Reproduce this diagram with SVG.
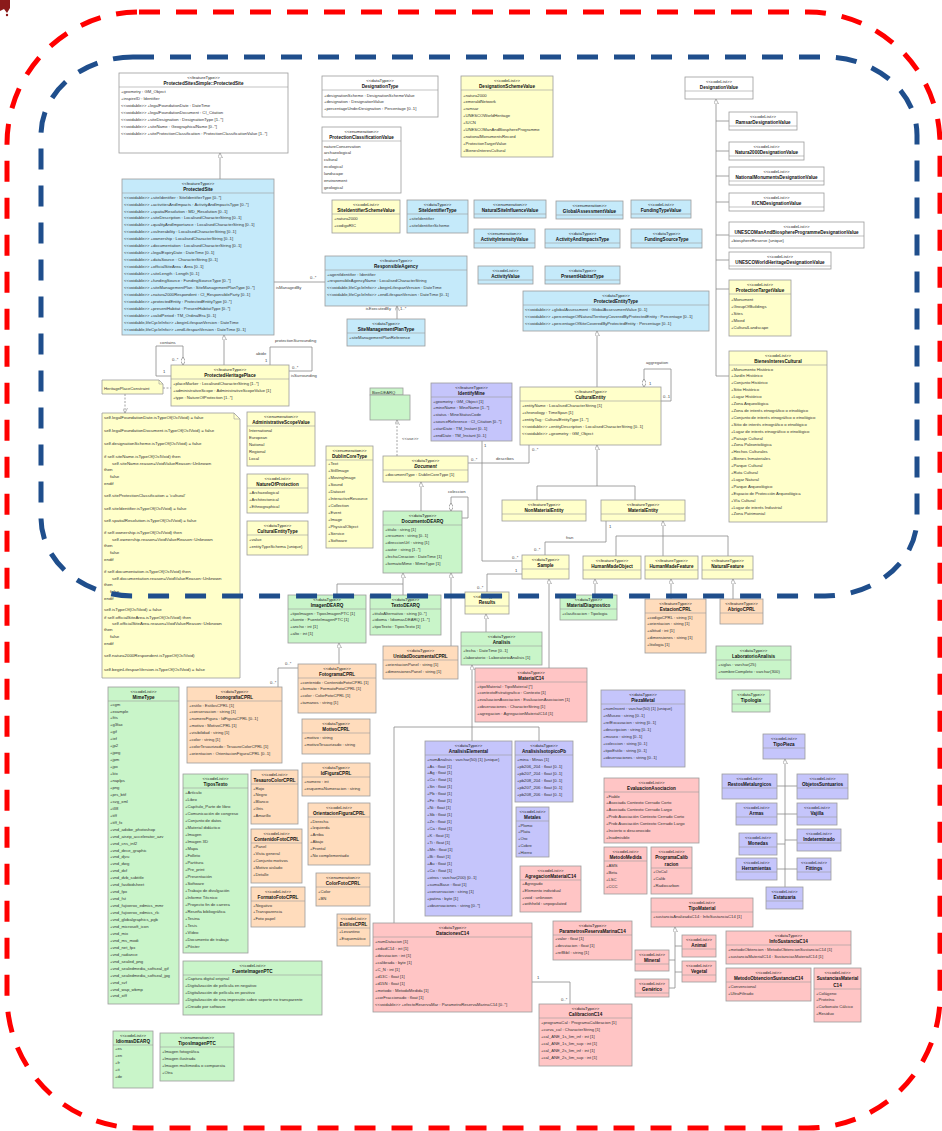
<svg xmlns="http://www.w3.org/2000/svg" width="942" height="1131" viewBox="0 0 942 1131">
<style>
rect.bx{stroke:#9c9c9c;stroke-width:.8}
.w{fill:#fff}.bl{fill:#c5eafa}.y{fill:#ffffca}.g{fill:#c9f5c9}.o{fill:#ffdcbc}.p{fill:#c5c5fb}.r{fill:#ffc5c5}
.sp{stroke:#9c9c9c;stroke-width:.6;fill:none}
text{font-family:"Liberation Sans",Arial,sans-serif;fill:#333}
.s{font-size:4.3px;text-anchor:middle;fill:#222}
.n{font-size:4.6px;font-weight:bold;text-anchor:middle;fill:#111}
.a{font-size:4.2px}
.nt{font-size:4.4px}
.c path{fill:none;stroke:#8c8c8c;stroke-width:.8}
.l{font-size:4.2px;fill:#444}
</style>
<defs>
<marker id="gen" viewBox="0 0 10 10" refX="10" refY="5" markerWidth="5" markerHeight="5" markerUnits="userSpaceOnUse" orient="auto"><path d="M0,0L10,5L0,10Z" fill="#fff" stroke="#888" stroke-width="1.2"/></marker>
<marker id="arr" viewBox="0 0 10 10" refX="10" refY="5" markerWidth="5" markerHeight="5" markerUnits="userSpaceOnUse" orient="auto"><path d="M0,0L10,5L0,10" fill="none" stroke="#888" stroke-width="1.2"/></marker>
<marker id="dia" viewBox="0 0 10 6" refX="0" refY="3" markerWidth="8" markerHeight="4.8" markerUnits="userSpaceOnUse" orient="auto"><path d="M0,3L5,0L10,3L5,6Z" fill="#fff" stroke="#888" stroke-width=".9"/></marker>
</defs>
<rect width="942" height="1131" fill="#fff"/>
<path d="M0,0H10V8L7,13L4,9L0,11Z" fill="#8b1a1a"/><circle cx="7" cy="15" r="1.2" fill="#8b1a1a"/>

<g class="c" id="connectors">
<path d="M220,179V153" marker-end="url(#gen)"/>
<path d="M224,365V335" marker-end="url(#gen)"/>
<path d="M597,387V331" marker-end="url(#gen)"/>
<path d="M537,500V486H635V500"/><path d="M597,486V445" marker-end="url(#gen)"/>
<path d="M616,556V536H728V556"/><path d="M663,556V521" marker-end="url(#gen)"/>
<path d="M421,511V482" marker-end="url(#gen)"/>
<path d="M337,595V584H403V595"/><path d="M403,584V573" marker-end="url(#gen)"/>
<path d="M451,646V573" marker-end="url(#gen)"/>
<path d="M339,664V643" marker-end="url(#gen)"/>
<path d="M486,632V614" marker-end="url(#gen)"/>
<path d="M549,668V579" marker-end="url(#gen)"/>
<path d="M595,595V579" marker-end="url(#gen)"/>
<path d="M671,599V579" marker-end="url(#gen)"/>
<path d="M733,599V579" marker-end="url(#gen)"/>
<path d="M394,923V727H539V741"/><path d="M472,741V665" marker-end="url(#gen)"/>
<path d="M716,376V99" marker-end="url(#gen)"/>
<path d="M716,121H729M716,151H729M716,176H729M716,202H729M716,235H729M716,260H729M716,289H729M716,376H729"/>
<path d="M785,887V759" marker-end="url(#gen)"/>
<path d="M777,786H797M777,814H797M777,844H785M785,840H797M777,869H797"/>
<path d="M675,988V927" marker-end="url(#gen)"/>
<path d="M675,946H682M669,960H675M675,972H682M669,988H675"/>
<path d="M274,282H325"/>
<path d="M183,365V346H156V376H171" marker-start="url(#dia)"/>
<path d="M270,365V347H312V371H289"/>
<path d="M397,319V306" marker-end="url(#arr)"/>
<path d="M644,387V369H671V401H661" marker-start="url(#dia)"/>
<path d="M397,456V420" stroke-dasharray="2 1.5" marker-end="url(#arr)"/>
<path d="M468,463H529V445"/>
<path d="M482,441V561H522"/>
<path d="M451,511V497H468V518H462" marker-start="url(#dia)"/>
<path d="M606,521V542H545V555"/>
<path d="M522,574H487V592"/>
<path d="M278,687V668H298"/>
<path d="M532,982H570V1004"/>
<path d="M163,388H171" stroke-dasharray="2 1.5"/>
<path d="M125,394V413" stroke-dasharray="2 1.5" marker-end="url(#arr)"/>
<text class="l" x="310" y="279">0..*</text>
<text class="l" x="276" y="289">isManagedBy</text>
<text class="l" x="160" y="344">contains</text>
<text class="l" x="172" y="361">0..*</text>
<text class="l" x="163" y="373">1</text>
<text class="l" x="275" y="342">protectionSurrounding</text>
<text class="l" x="256" y="355">abide</text>
<text class="l" x="265" y="362">1</text>
<text class="l" x="292" y="369">0..*</text>
<text class="l" x="291" y="377">isSurrounding</text>
<text class="l" x="391" y="310" text-anchor="end">isExecutedBy</text>
<text class="l" x="400" y="310">1..*</text>
<text class="l" x="646" y="364">aggregation</text>
<text class="l" x="649" y="385">1</text>
<text class="l" x="663" y="398">0..1</text>
<text class="l" x="402" y="440">&lt;&lt;use&gt;&gt;</text>
<text class="l" x="471" y="461">0..*</text>
<text class="l" x="496" y="460">describes</text>
<text class="l" x="532" y="451">0..*</text>
<text class="l" x="484" y="447">1</text>
<text class="l" x="512" y="559">0..*</text>
<text class="l" x="448" y="493">coleccion</text>
<text class="l" x="609" y="528">1</text>
<text class="l" x="566" y="539">fran</text>
<text class="l" x="534" y="551">0..*</text>
<text class="l" x="515" y="572">1</text>
<text class="l" x="477" y="589">0..*</text>
<text class="l" x="285" y="665">0..*</text>
<text class="l" x="270" y="684">0..*</text>
<text class="l" x="537" y="979">1</text>
<text class="l" x="561" y="1001">0..*</text>
</g>

<g id="ProtectedSitesSimple"><rect class="bx w" x="119" y="73" width="169" height="80"/><path class="sp" d="M119 87H288"/><text class="s" x="203.5" y="79">&lt;&lt;featureType&gt;&gt;</text><text class="n" x="203.5" y="85">ProtectedSitesSimple::ProtectedSite</text><text class="a"><tspan x="121" y="92.5">+geometry : GM_Object</tspan><tspan x="121" y="99.5">+inspireID : Identifier</tspan><tspan x="121" y="106.5">&lt;&lt;voidable&gt;&gt; +legalFoundationDate : DateTime</tspan><tspan x="121" y="113.5">&lt;&lt;voidable&gt;&gt; +legalFoundationDocument : CI_Citation</tspan><tspan x="121" y="120.5">&lt;&lt;voidable&gt;&gt; +siteDesignation : DesignationType [1..*]</tspan><tspan x="121" y="127.5">&lt;&lt;voidable&gt;&gt; +siteName : GeographicalName [0..*]</tspan><tspan x="121" y="134.5">&lt;&lt;voidable&gt;&gt; +siteProtectionClassification : ProtectionClassificationValue [1..*]</tspan></text></g>

<g id="ProtectedSite"><rect class="bx bl" x="122" y="179" width="152" height="156"/><path class="sp" d="M122 193H274"/><text class="s" x="198" y="185">&lt;&lt;featureType&gt;&gt;</text><text class="n" x="198" y="191">ProtectedSite</text><text class="a"><tspan x="124" y="198.5">&lt;&lt;voidable&gt;&gt; +siteIdentifier : SiteIdentifierType [0..*]</tspan><tspan x="124" y="205.5">&lt;&lt;voidable&gt;&gt; +activitiesAndImpacts : ActivityAndImpactsType [0..*]</tspan><tspan x="124" y="212.5">&lt;&lt;voidable&gt;&gt; +spatialResolution : MD_Resolution [0..1]</tspan><tspan x="124" y="219.4">&lt;&lt;voidable&gt;&gt; +siteDescription : LocalisedCharacterString [0..1]</tspan><tspan x="124" y="226.3">&lt;&lt;voidable&gt;&gt; +qualityAndImportance : LocalisedCharacterString [0..1]</tspan><tspan x="124" y="233.3">&lt;&lt;voidable&gt;&gt; +vulnerability : LocalisedCharacterString [0..1]</tspan><tspan x="124" y="240.2">&lt;&lt;voidable&gt;&gt; +ownership : LocalisedCharacterString [0..1]</tspan><tspan x="124" y="247.2">&lt;&lt;voidable&gt;&gt; +documentation : LocalisedCharacterString [0..1]</tspan><tspan x="124" y="254.1">&lt;&lt;voidable&gt;&gt; +legalExpiryDate : DateTime [0..1]</tspan><tspan x="124" y="261.1">&lt;&lt;voidable&gt;&gt; +dataSource : CharacterString [0..1]</tspan><tspan x="124" y="268">&lt;&lt;voidable&gt;&gt; +officialSiteArea : Area [0..1]</tspan><tspan x="124" y="275">&lt;&lt;voidable&gt;&gt; +siteLength : Length [0..1]</tspan><tspan x="124" y="281.9">&lt;&lt;voidable&gt;&gt; +fundingSource : FundingSourceType [0..*]</tspan><tspan x="124" y="288.9">&lt;&lt;voidable&gt;&gt; +siteManagementPlan : SiteManagementPlanType [0..*]</tspan><tspan x="124" y="295.8">&lt;&lt;voidable&gt;&gt; +natura2000Respondent : CI_ResponsibleParty [0..1]</tspan><tspan x="124" y="302.8">&lt;&lt;voidable&gt;&gt; +protectedEntity : ProtectedEntityType [0..*]</tspan><tspan x="124" y="309.7">&lt;&lt;voidable&gt;&gt; +presentHabitat : PresentHabitatType [0..*]</tspan><tspan x="124" y="316.7">&lt;&lt;voidable&gt;&gt; +validPeriod : TM_OrdinalEra [0..1]</tspan><tspan x="124" y="323.6">&lt;&lt;voidable,lifeCycleInfo&gt;&gt; +beginLifespanVersion : DateTime</tspan><tspan x="124" y="330.6">&lt;&lt;voidable,lifeCycleInfo&gt;&gt; +endLifespanVersion : DateTime [0..1]</tspan></text></g>

<g id="DesignationType"><rect class="bx w" x="322" y="76" width="116" height="41"/><path class="sp" d="M322 90H438"/><text class="s" x="380" y="82">&lt;&lt;dataType&gt;&gt;</text><text class="n" x="380" y="88">DesignationType</text><text class="a"><tspan x="324" y="96.5">+designationScheme : DesignationSchemeValue</tspan><tspan x="324" y="103.2">+designation : DesignationValue</tspan><tspan x="324" y="110">+percentageUnderDesignation : Percentage [0..1]</tspan></text></g>

<g id="ProtectionClassificationValue"><rect class="bx w" x="322" y="127" width="79" height="66"/><path class="sp" d="M322 141H401"/><text class="s" x="361.5" y="133">&lt;&lt;enumeration&gt;&gt;</text><text class="n" x="361.5" y="139">ProtectionClassificationValue</text><text class="a"><tspan x="324" y="147.5">natureConservation</tspan><tspan x="324" y="154.4">archaeological</tspan><tspan x="324" y="161.3">cultural</tspan><tspan x="324" y="168.2">ecological</tspan><tspan x="324" y="175.1">landscape</tspan><tspan x="324" y="182">environment</tspan><tspan x="324" y="188.9">geological</tspan></text></g>

<g id="DesignationSchemeValue"><rect class="bx y" x="461" y="76" width="92" height="81"/><path class="sp" d="M461 90H553"/><text class="s" x="507" y="82">&lt;&lt;codeList&gt;&gt;</text><text class="n" x="507" y="88">DesignationSchemeValue</text><text class="a"><tspan x="463" y="96.5">+natura2000</tspan><tspan x="463" y="103.4">+emeraldNetwork</tspan><tspan x="463" y="110.3">+ramsar</tspan><tspan x="463" y="117.2">+UNESCOWorldHeritage</tspan><tspan x="463" y="124.1">+IUCN</tspan><tspan x="463" y="131">+UNESCOManAndBiosphereProgramme</tspan><tspan x="463" y="137.9">+nationalMonumentsRecord</tspan><tspan x="463" y="144.8">+ProtectionTargetValue</tspan><tspan x="463" y="151.7">+BienesInteresCultural</tspan></text></g>

<g id="SiteIdentifierSchemeValue"><rect class="bx y" x="332" y="200" width="68" height="33"/><path class="sp" d="M332 214H400"/><text class="s" x="366" y="206">&lt;&lt;codeList&gt;&gt;</text><text class="n" x="366" y="212">SiteIdentifierSchemeValue</text><text class="a"><tspan x="334" y="219.5">+natura2000</tspan><tspan x="334" y="226.5">+codigoRIC</tspan></text></g>

<g id="SiteIdentifierType"><rect class="bx bl" x="407" y="200" width="61" height="33"/><path class="sp" d="M407 214H468"/><text class="s" x="437.5" y="206">&lt;&lt;dataType&gt;&gt;</text><text class="n" x="437.5" y="212">SiteIdentifierType</text><text class="a"><tspan x="409" y="219.5">+siteIdentifier</tspan><tspan x="409" y="226.5">+siteIdentifierScheme</tspan></text></g>

<g id="NaturalSiteInfluenceValue"><rect class="bx bl" x="474" y="200" width="72" height="18"/><path class="sp" d="M474 214H546"/><text class="s" x="510" y="206">&lt;&lt;enumeration&gt;&gt;</text><text class="n" x="510" y="212">NaturalSiteInfluenceValue</text></g>
<g id="GlobalAssessmentValue"><rect class="bx bl" x="556" y="201" width="67" height="18"/><path class="sp" d="M556 215H623"/><text class="s" x="589.5" y="207">&lt;&lt;enumeration&gt;&gt;</text><text class="n" x="589.5" y="213">GlobalAssessmentValue</text></g>
<g id="ActivityIntensityValue"><rect class="bx bl" x="474" y="229" width="61" height="19"/><path class="sp" d="M474 243H535"/><text class="s" x="504.5" y="235">&lt;&lt;enumeration&gt;&gt;</text><text class="n" x="504.5" y="241">ActivityIntensityValue</text></g>
<g id="ActivityAndImpactsType"><rect class="bx bl" x="545" y="229" width="75" height="19"/><path class="sp" d="M545 243H620"/><text class="s" x="582.5" y="235">&lt;&lt;dataType&gt;&gt;</text><text class="n" x="582.5" y="241">ActivityAndImpactsType</text></g>
<g id="FundingTypeValue"><rect class="bx bl" x="631" y="200" width="60" height="18"/><path class="sp" d="M631 214H691"/><text class="s" x="661" y="206">&lt;&lt;codeList&gt;&gt;</text><text class="n" x="661" y="212">FundingTypeValue</text></g>
<g id="FundingSourceType"><rect class="bx bl" x="631" y="229" width="71" height="19"/><path class="sp" d="M631 243H702"/><text class="s" x="666.5" y="235">&lt;&lt;dataType&gt;&gt;</text><text class="n" x="666.5" y="241">FundingSourceType</text></g>

<g id="ResponsibleAgency"><rect class="bx bl" x="325" y="256" width="142" height="50"/><path class="sp" d="M325 270H467"/><text class="s" x="396" y="262">&lt;&lt;featureType&gt;&gt;</text><text class="n" x="396" y="268">ResponsibleAgency</text><text class="a"><tspan x="327" y="275.5">+agentIdentifier : Identifier</tspan><tspan x="327" y="282.4">+responsibleAgencyName : LocalisedCharacterString</tspan><tspan x="327" y="289.3">&lt;&lt;voidable,lifeCycleInfo&gt;&gt; +beginLifespanVersion : DateTime</tspan><tspan x="327" y="296.2">&lt;&lt;voidable,lifeCycleInfo&gt;&gt; +endLifespanVersion : DateTime [0..1]</tspan></text></g>

<g id="ActivityValue"><rect class="bx bl" x="478" y="266" width="55" height="18"/><path class="sp" d="M478 280H533"/><text class="s" x="505.5" y="272">&lt;&lt;codeList&gt;&gt;</text><text class="n" x="505.5" y="278">ActivityValue</text></g>
<g id="PresentHabitatType"><rect class="bx bl" x="545" y="266" width="75" height="18"/><path class="sp" d="M545 280H620"/><text class="s" x="582.5" y="272">&lt;&lt;dataType&gt;&gt;</text><text class="n" x="582.5" y="278">PresentHabitatType</text></g>

<g id="DesignationValue"><rect class="bx w" x="685" y="77" width="68" height="22"/><path class="sp" d="M685 91H753"/><text class="s" x="719" y="83">&lt;&lt;codeList&gt;&gt;</text><text class="n" x="719" y="89" font-weight="normal">DesignationValue</text></g>
<g id="RamsarDesignationValue"><rect class="bx w" x="729" y="112" width="68" height="18"/><path class="sp" d="M729 126H797"/><text class="s" x="763" y="118">&lt;&lt;codeList&gt;&gt;</text><text class="n" x="763" y="124">RamsarDesignationValue</text></g>
<g id="Natura2000DesignationValue"><rect class="bx w" x="729" y="142" width="75" height="18"/><path class="sp" d="M729 156H804"/><text class="s" x="766.5" y="148">&lt;&lt;codeList&gt;&gt;</text><text class="n" x="766.5" y="154">Natura2000DesignationValue</text></g>
<g id="NationalMonumentsDesignationValue"><rect class="bx w" x="729" y="167" width="95" height="18"/><path class="sp" d="M729 181H824"/><text class="s" x="776.5" y="173">&lt;&lt;codeList&gt;&gt;</text><text class="n" x="776.5" y="179">NationalMonumentsDesignationValue</text></g>
<g id="IUCNDesignationValue"><rect class="bx w" x="729" y="193" width="95" height="18"/><path class="sp" d="M729 207H824"/><text class="s" x="776.5" y="199">&lt;&lt;codeList&gt;&gt;</text><text class="n" x="776.5" y="205">IUCNDesignationValue</text></g>
<g id="UNESCOManAndBiosphereProgrammeDesignationValue"><rect class="bx w" x="729" y="222" width="135" height="26"/><path class="sp" d="M729 236H864"/><text class="s" x="796.5" y="228">&lt;&lt;codeList&gt;&gt;</text><text class="n" x="796.5" y="234">UNESCOManAndBiosphereProgrammeDesignationValue</text><text class="a"><tspan x="731" y="242">+biosphereReserve {unique}</tspan></text></g>
<g id="UNESCOWorldHeritageDesignationValue"><rect class="bx w" x="729" y="252" width="102" height="17"/><path class="sp" d="M729 266H831"/><text class="s" x="780" y="258">&lt;&lt;codeList&gt;&gt;</text><text class="n" x="780" y="264">UNESCOWorldHeritageDesignationValue</text></g>

<g id="ProtectionTargetValue"><rect class="bx y" x="729" y="280" width="62" height="56"/><path class="sp" d="M729 294H791"/><text class="s" x="760" y="286">&lt;&lt;codeList&gt;&gt;</text><text class="n" x="760" y="292">ProtectionTargetValue</text><text class="a"><tspan x="731" y="300.5">+Monument</tspan><tspan x="731" y="307.5">+GroupOfBuildings</tspan><tspan x="731" y="314.5">+Sites</tspan><tspan x="731" y="321.5">+Mixed</tspan><tspan x="731" y="328.5">+CulturalLandscape</tspan></text></g>

<g id="BienesInteresCultural"><rect class="bx y" x="729" y="351" width="98" height="171"/><path class="sp" d="M729 365H827"/><text class="s" x="778" y="357">&lt;&lt;codeList&gt;&gt;</text><text class="n" x="778" y="363">BienesInteresCultural</text><text class="a" font-size="4px"><tspan x="731" y="370.5">+Monumento Histórico</tspan><tspan x="731" y="377.4">+Jardín Histórico</tspan><tspan x="731" y="384.3">+Conjunto Histórico</tspan><tspan x="731" y="391.2">+Sitio Histórico</tspan><tspan x="731" y="398.1">+Lugar Histórico</tspan><tspan x="731" y="405">+Zona Arqueológica</tspan><tspan x="731" y="411.9">+Zona de interés etnográfico o etnológico</tspan><tspan x="731" y="418.8">+Conjunto de interés etnográfico o etnológico</tspan><tspan x="731" y="425.7">+Sitio de interés etnográfico o etnológico</tspan><tspan x="731" y="432.6">+Lugar de interés etnográfico o etnológico</tspan><tspan x="731" y="439.5">+Paisaje Cultural</tspan><tspan x="731" y="446.4">+Zona Paleontológica</tspan><tspan x="731" y="453.3">+Hechos Culturales</tspan><tspan x="731" y="460.2">+Bienes Inmateriales</tspan><tspan x="731" y="467.1">+Parque Cultural</tspan><tspan x="731" y="474">+Ruta Cultural</tspan><tspan x="731" y="480.9">+Lugar Natural</tspan><tspan x="731" y="487.8">+Parque Arqueológico</tspan><tspan x="731" y="494.7">+Espacio de Protección Arqueológica</tspan><tspan x="731" y="501.6">+Vía Cultural</tspan><tspan x="731" y="508.5">+Lugar de interés Industrial</tspan><tspan x="731" y="515.4">+Zona Patrimonial</tspan></text></g>

<g id="SiteManagementPlanType"><rect class="bx bl" x="347" y="319" width="78" height="27"/><path class="sp" d="M347 333H425"/><text class="s" x="386" y="325">&lt;&lt;dataType&gt;&gt;</text><text class="n" x="386" y="331">SiteManagementPlanType</text><text class="a"><tspan x="349" y="338.5">+siteManagementPlanReference</tspan></text></g>

<g id="ProtectedEntityType"><rect class="bx bl" x="523" y="291" width="186" height="40"/><path class="sp" d="M523 305H709"/><text class="s" x="616" y="297">&lt;&lt;dataType&gt;&gt;</text><text class="n" x="616" y="303">ProtectedEntityType</text><text class="a"><tspan x="525" y="310.5">&lt;&lt;voidable&gt;&gt; +globalAssessment : GlobalAssessmentValue [0..1]</tspan><tspan x="525" y="317.5">&lt;&lt;voidable&gt;&gt; +percentageOfNaturalTerritoryCoveredByProtectedEntity : Percentage [0..1]</tspan><tspan x="525" y="324.5">&lt;&lt;voidable&gt;&gt; +percentageOfSiteCoveredByProtectedEntity : Percentage [0..1]</tspan></text></g>

<g id="CulturalEntity"><rect class="bx y" x="520" y="387" width="141" height="58"/><path class="sp" d="M520 401H661"/><text class="s" x="590.5" y="393">&lt;&lt;featureType&gt;&gt;</text><text class="n" x="590.5" y="399">CulturalEntity</text><text class="a"><tspan x="522" y="406.5">+entityName : LocalisedCharacterString [1]</tspan><tspan x="522" y="413.5">+chronology : TimeSpan [1]</tspan><tspan x="522" y="420.5">+entityTag : CulturalEntityType [1..*]</tspan><tspan x="522" y="427.5">&lt;&lt;voidable&gt;&gt; +entityDescription : LocalisedCharacterString [0..1]</tspan><tspan x="522" y="434.5">&lt;&lt;voidable&gt;&gt; +geometry : GM_Object</tspan></text></g>

<g id="BienDEARQ"><rect class="bx g" x="370" y="388" width="33" height="7"/><rect class="bx g" x="370" y="395" width="40" height="25"/><text class="a" x="372" y="393.5">BienDEARQ</text></g>

<g id="IdentifyMine"><rect class="bx p" x="431" y="383" width="81" height="58"/><path class="sp" d="M431 397H512"/><text class="s" x="471.5" y="389">&lt;&lt;featureType&gt;&gt;</text><text class="n" x="471.5" y="395">IdentifyMine</text><text class="a"><tspan x="433" y="402.5">+geometry : GM_Object [1]</tspan><tspan x="433" y="409.4">+mineName : MineName [1..*]</tspan><tspan x="433" y="416.3">+status : MineStatusCode</tspan><tspan x="433" y="423.2">+sourceReference : CI_Citation [0..*]</tspan><tspan x="433" y="430.1">+startDate : TM_Instant [0..1]</tspan><tspan x="433" y="437">+endDate : TM_Instant [0..1]</tspan></text></g>

<g id="Document"><rect class="bx y" x="383" y="456" width="85" height="26"/><path class="sp" d="M383 470H468"/><text class="s" x="425.5" y="462">&lt;&lt;dataType&gt;&gt;</text><text class="n" x="425.5" y="468" font-style="italic">Document</text><text class="a"><tspan x="385" y="476">+documentType : DublinCoreType [1]</tspan></text></g>

<g id="DublinCoreType"><rect class="bx y" x="326" y="446" width="47" height="102"/><path class="sp" d="M326 460H373"/><text class="s" x="349.5" y="452">&lt;&lt;enumeration&gt;&gt;</text><text class="n" x="349.5" y="458">DublinCoreType</text><text class="a"><tspan x="328" y="465">+Text</tspan><tspan x="328" y="472">+StillImage</tspan><tspan x="328" y="479">+MovingImage</tspan><tspan x="328" y="486">+Sound</tspan><tspan x="328" y="493">+Dataset</tspan><tspan x="328" y="500">+InteractiveResource</tspan><tspan x="328" y="507">+Collection</tspan><tspan x="328" y="514">+Event</tspan><tspan x="328" y="521">+Image</tspan><tspan x="328" y="528">+PhysicalObject</tspan><tspan x="328" y="535">+Service</tspan><tspan x="328" y="542">+Software</tspan></text></g>

<g id="DocumentoDEARQ"><rect class="bx g" x="383" y="511" width="79" height="62"/><path class="sp" d="M383 525H462"/><text class="s" x="422.5" y="517">&lt;&lt;dataType&gt;&gt;</text><text class="n" x="422.5" y="523">DocumentoDEARQ</text><text class="a"><tspan x="385" y="530.5">+titulo : string [1]</tspan><tspan x="385" y="537.4">+resumen : string [0..1]</tspan><tspan x="385" y="544.3">+direccionUrl : string [1]</tspan><tspan x="385" y="551.2">+autor : string [1..*]</tspan><tspan x="385" y="558.1">+fechaCreacion : DateTime [1]</tspan><tspan x="385" y="565">+formatoMime : MimeType [1]</tspan></text></g>

<g id="NonMaterialEntity"><rect class="bx y" x="502" y="500" width="84" height="21"/><path class="sp" d="M502 514H586"/><text class="s" x="544" y="506">&lt;&lt;featureType&gt;&gt;</text><text class="n" x="544" y="512">NonMaterialEntity</text></g>
<g id="MaterialEntity"><rect class="bx y" x="601" y="500" width="84" height="21"/><path class="sp" d="M601 514H685"/><text class="s" x="643" y="506">&lt;&lt;featureType&gt;&gt;</text><text class="n" x="643" y="512">MaterialEntity</text></g>
<g id="Sample"><rect class="bx y" x="522" y="555" width="47" height="24"/><path class="sp" d="M522 569H569"/><text class="s" x="545.5" y="561">&lt;&lt;dataType&gt;&gt;</text><text class="n" x="545.5" y="567">Sample</text></g>
<g id="HumanMadeObject"><rect class="bx y" x="583" y="556" width="58" height="23"/><path class="sp" d="M583 570H641"/><text class="s" x="612" y="562">&lt;&lt;featureType&gt;&gt;</text><text class="n" x="612" y="568">HumanMadeObject</text></g>
<g id="HumanMadeFeature"><rect class="bx y" x="645" y="556" width="53" height="23"/><path class="sp" d="M645 570H698"/><text class="s" x="671.5" y="562">&lt;&lt;featureType&gt;&gt;</text><text class="n" x="671.5" y="568">HumanMadeFeature</text></g>
<g id="NaturalFeature"><rect class="bx y" x="702" y="556" width="51" height="23"/><path class="sp" d="M702 570H753"/><text class="s" x="727.5" y="562">&lt;&lt;featureType&gt;&gt;</text><text class="n" x="727.5" y="568">NaturalFeature</text></g>
<g id="Results"><rect class="bx y" x="465" y="592" width="44" height="22"/><path class="sp" d="M465 606H509"/><text class="s" x="487" y="598">&lt;&lt;dataType&gt;&gt;</text><text class="n" x="487" y="604">Results</text></g>

<g id="MaterialDiagnostico"><rect class="bx g" x="560" y="595" width="57" height="25"/><path class="sp" d="M560 609H617"/><text class="s" x="588.5" y="601">&lt;&lt;dataType&gt;&gt;</text><text class="n" x="588.5" y="607">MaterialDiagnostico</text><text class="a"><tspan x="562" y="614.5">+clasificacion : Tipologia</tspan></text></g>

<g id="ImagenDEARQ"><rect class="bx g" x="288" y="595" width="78" height="48"/><path class="sp" d="M288 609H366"/><text class="s" x="327" y="601">&lt;&lt;dataType&gt;&gt;</text><text class="n" x="327" y="607">ImagenDEARQ</text><text class="a"><tspan x="290" y="614.5">+tipoImagen : TiposImagenPTC [1]</tspan><tspan x="290" y="621.3">+fuente : FuenteImagenPTC [1]</tspan><tspan x="290" y="628.1">+ancho : int [1]</tspan><tspan x="290" y="634.9">+alto : int [1]</tspan></text></g>

<g id="TextoDEARQ"><rect class="bx g" x="370" y="595" width="71" height="40"/><path class="sp" d="M370 609H441"/><text class="s" x="405.5" y="601">&lt;&lt;dataType&gt;&gt;</text><text class="n" x="405.5" y="607">TextoDEARQ</text><text class="a"><tspan x="372" y="614.5">+tituloAlternativo : string [0..*]</tspan><tspan x="372" y="621.3">+idioma : IdiomasDEARQ [1..*]</tspan><tspan x="372" y="628.1">+tipoTexto : TiposTexto [1]</tspan></text></g>

<g id="UnidadDocumentalCPRL"><rect class="bx o" x="383" y="646" width="75" height="33"/><path class="sp" d="M383 660H458"/><text class="s" x="420.5" y="652">&lt;&lt;dataType&gt;&gt;</text><text class="n" x="420.5" y="658">UnidadDocumentalCPRL</text><text class="a"><tspan x="385" y="665.5">+orientacionPanel : string [1]</tspan><tspan x="385" y="672.5">+dimensionesPanel : string [1]</tspan></text></g>

<g id="FotogramaCPRL"><rect class="bx o" x="298" y="664" width="78" height="49"/><path class="sp" d="M298 678H376"/><text class="s" x="337" y="670">&lt;&lt;dataType&gt;&gt;</text><text class="n" x="337" y="676">FotogramaCPRL</text><text class="a"><tspan x="300" y="683.5">+contenido : ContenidoFotoCPRL [1]</tspan><tspan x="300" y="690.4">+formato : FormatoFotoCPRL [1]</tspan><tspan x="300" y="697.3">+color : ColorFotoCPRL [1]</tspan><tspan x="300" y="704.2">+tamanos : string [1]</tspan></text></g>

<g id="IconografiaCPRL"><rect class="bx o" x="187" y="687" width="95" height="76"/><path class="sp" d="M187 701H282"/><text class="s" x="234.5" y="693">&lt;&lt;dataType&gt;&gt;</text><text class="n" x="234.5" y="699">IconografiaCPRL</text><text class="a"><tspan x="189" y="706.5">+estilo : EstilosCPRL [1]</tspan><tspan x="189" y="713.4">+conservacion : string [1]</tspan><tspan x="189" y="720.3">+numeroFigura : IdFiguraCPRL [0..1]</tspan><tspan x="189" y="727.2">+motivo : MotivoCPRL [1]</tspan><tspan x="189" y="734.1">+visibilidad : string [1]</tspan><tspan x="189" y="741">+color : string [1]</tspan><tspan x="189" y="747.9">+colorTesaurizado : TesauroColorCPRL [1]</tspan><tspan x="189" y="754.8">+orientacion : OrientacionFiguraCPRL [0..1]</tspan></text></g>

<g id="MotivoCPRL"><rect class="bx o" x="302" y="719" width="68" height="35"/><path class="sp" d="M302 733H370"/><text class="s" x="336" y="725">&lt;&lt;dataType&gt;&gt;</text><text class="n" x="336" y="731">MotivoCPRL</text><text class="a"><tspan x="304" y="738.5">+motivo : string</tspan><tspan x="304" y="745.5">+motivoTesaurizado : string</tspan></text></g>

<g id="IdFiguraCPRL"><rect class="bx o" x="302" y="763" width="68" height="33"/><path class="sp" d="M302 777H370"/><text class="s" x="336" y="769">&lt;&lt;dataType&gt;&gt;</text><text class="n" x="336" y="775">IdFiguraCPRL</text><text class="a"><tspan x="304" y="782.5">+numero : int</tspan><tspan x="304" y="789.5">+esquemaNumeracion : string</tspan></text></g>

<g id="OrientacionFiguraCPRL"><rect class="bx o" x="308" y="803" width="62" height="62"/><path class="sp" d="M308 817H370"/><text class="s" x="339" y="809">&lt;&lt;codeList&gt;&gt;</text><text class="n" x="339" y="815">OrientacionFiguraCPRL</text><text class="a"><tspan x="310" y="822.5">+Derecha</tspan><tspan x="310" y="829.4">+Izquierda</tspan><tspan x="310" y="836.3">+Arriba</tspan><tspan x="310" y="843.2">+Abajo</tspan><tspan x="310" y="850.1">+Frontal</tspan><tspan x="310" y="857">+No complementado</tspan></text></g>

<g id="ColorFotoCPRL"><rect class="bx o" x="316" y="873" width="54" height="33"/><path class="sp" d="M316 887H370"/><text class="s" x="343" y="879">&lt;&lt;enumeration&gt;&gt;</text><text class="n" x="343" y="885">ColorFotoCPRL</text><text class="a"><tspan x="318" y="892.5">+Color</tspan><tspan x="318" y="899.5">+BN</tspan></text></g>

<g id="EstilosCPRL"><rect class="bx o" x="337" y="914" width="33" height="32"/><path class="sp" d="M337 928H370"/><text class="s" x="353.5" y="920">&lt;&lt;codeList&gt;&gt;</text><text class="n" x="353.5" y="926" font-size="4.2px">EstilosCPRL</text><text class="a"><tspan x="339" y="933">+Levantino</tspan><tspan x="339" y="940">+Esquemático</tspan></text></g>

<g id="TesauroColorCPRL"><rect class="bx o" x="251" y="770" width="47" height="54"/><path class="sp" d="M251 784H298"/><text class="s" x="274.5" y="776">&lt;&lt;codeList&gt;&gt;</text><text class="n" x="274.5" y="782">TesauroColorCPRL</text><text class="a"><tspan x="253" y="789.5">+Rojo</tspan><tspan x="253" y="796.4">+Negro</tspan><tspan x="253" y="803.3">+Blanco</tspan><tspan x="253" y="810.2">+Gris</tspan><tspan x="253" y="817.1">+Amarillo</tspan></text></g>

<g id="ContenidoFotoCPRL"><rect class="bx o" x="251" y="829" width="51" height="54"/><path class="sp" d="M251 843H302"/><text class="s" x="276.5" y="835">&lt;&lt;codeList&gt;&gt;</text><text class="n" x="276.5" y="841">ContenidoFotoCPRL</text><text class="a"><tspan x="253" y="848">+Panel</tspan><tspan x="253" y="855">+Vista general</tspan><tspan x="253" y="862">+Conjunto motivos</tspan><tspan x="253" y="869">+Motivo aislado</tspan><tspan x="253" y="876">+Detalle</tspan></text></g>

<g id="FormatoFotoCPRL"><rect class="bx o" x="251" y="887" width="54" height="40"/><path class="sp" d="M251 901H305"/><text class="s" x="278" y="893">&lt;&lt;codeList&gt;&gt;</text><text class="n" x="278" y="899">FormatoFotoCPRL</text><text class="a"><tspan x="253" y="906.5">+Negativo</tspan><tspan x="253" y="913.4">+Transparencia</tspan><tspan x="253" y="920.3">+Foto papel</tspan></text></g>

<g id="MimeType"><rect class="bx g" x="108" y="687" width="71" height="317"/><path class="sp" d="M108 701H179"/><text class="s" x="143.5" y="693">&lt;&lt;codeList&gt;&gt;</text><text class="n" x="143.5" y="699">MimeType</text><text class="a"><tspan x="110" y="705.5">+cgm</tspan><tspan x="110" y="712.5">+example</tspan><tspan x="110" y="719.4">+fits</tspan><tspan x="110" y="726.4">+g3fax</tspan><tspan x="110" y="733.3">+gif</tspan><tspan x="110" y="740.3">+ief</tspan><tspan x="110" y="747.2">+jp2</tspan><tspan x="110" y="754.2">+jpeg</tspan><tspan x="110" y="761.1">+jpm</tspan><tspan x="110" y="768.1">+jpx</tspan><tspan x="110" y="775">+ktx</tspan><tspan x="110" y="782">+naplps</tspan><tspan x="110" y="788.9">+png</tspan><tspan x="110" y="795.9">+prs_btif</tspan><tspan x="110" y="802.8">+svg_xml</tspan><tspan x="110" y="809.8">+t38</tspan><tspan x="110" y="816.7">+tiff</tspan><tspan x="110" y="823.7">+tiff_fx</tspan><tspan x="110" y="830.6">+vnd_adobe_photoshop</tspan><tspan x="110" y="837.6">+vnd_airzip_accelerator_azv</tspan><tspan x="110" y="844.5">+vnd_cns_inf2</tspan><tspan x="110" y="851.5">+vnd_dece_graphic</tspan><tspan x="110" y="858.4">+vnd_djvu</tspan><tspan x="110" y="865.4">+vnd_dwg</tspan><tspan x="110" y="872.3">+vnd_dxf</tspan><tspan x="110" y="879.3">+vnd_dvb_subtitle</tspan><tspan x="110" y="886.2">+vnd_fastbidsheet</tspan><tspan x="110" y="893.2">+vnd_fpx</tspan><tspan x="110" y="900.1">+vnd_fst</tspan><tspan x="110" y="907.1">+vnd_fujixerox_edmics_mmr</tspan><tspan x="110" y="914">+vnd_fujixerox_edmics_rlc</tspan><tspan x="110" y="921">+vnd_globalgraphics_pgb</tspan><tspan x="110" y="927.9">+vnd_microsoft_icon</tspan><tspan x="110" y="934.9">+vnd_mix</tspan><tspan x="110" y="941.8">+vnd_ms_modi</tspan><tspan x="110" y="948.8">+vnd_net_fpx</tspan><tspan x="110" y="955.7">+vnd_radiance</tspan><tspan x="110" y="962.7">+vnd_sealed_png</tspan><tspan x="110" y="969.6">+vnd_sealedmedia_softseal_gif</tspan><tspan x="110" y="976.6">+vnd_sealedmedia_softseal_jpg</tspan><tspan x="110" y="983.5">+vnd_svf</tspan><tspan x="110" y="990.5">+vnd_wap_wbmp</tspan><tspan x="110" y="997.4">+vnd_xiff</tspan></text></g>

<g id="TiposTexto"><rect class="bx g" x="183" y="774" width="65" height="179"/><path class="sp" d="M183 788H248"/><text class="s" x="215.5" y="780">&lt;&lt;codeList&gt;&gt;</text><text class="n" x="215.5" y="786">TiposTexto</text><text class="a"><tspan x="185" y="793.5">+Artículo</tspan><tspan x="185" y="800.5">+Libro</tspan><tspan x="185" y="807.5">+Capítulo_Parte de libro</tspan><tspan x="185" y="814.5">+Comunicación de congreso</tspan><tspan x="185" y="821.5">+Conjunto de datos</tspan><tspan x="185" y="828.5">+Material didáctico</tspan><tspan x="185" y="835.5">+Imagen</tspan><tspan x="185" y="842.5">+Imagen 3D</tspan><tspan x="185" y="849.5">+Mapa</tspan><tspan x="185" y="856.5">+Folleto</tspan><tspan x="185" y="863.5">+Partitura</tspan><tspan x="185" y="870.5">+Pre_print</tspan><tspan x="185" y="877.5">+Presentación</tspan><tspan x="185" y="884.5">+Software</tspan><tspan x="185" y="891.5">+Trabajo de divulgación</tspan><tspan x="185" y="898.5">+Informe Técnico</tspan><tspan x="185" y="905.5">+Proyecto fin de carrera</tspan><tspan x="185" y="912.5">+Reseña bibliográfica</tspan><tspan x="185" y="919.5">+Tesina</tspan><tspan x="185" y="926.5">+Tesis</tspan><tspan x="185" y="933.5">+Vídeo</tspan><tspan x="185" y="940.5">+Documento de trabajo</tspan><tspan x="185" y="947.5">+Póster</tspan></text></g>

<g id="FuenteImagenPTC"><rect class="bx g" x="183" y="961" width="139" height="54"/><path class="sp" d="M183 975H322"/><text class="s" x="252.5" y="967">&lt;&lt;codeList&gt;&gt;</text><text class="n" x="252.5" y="973">FuenteImagenPTC</text><text class="a"><tspan x="185" y="980">+Captura digital original</tspan><tspan x="185" y="986.9">+Digitalización de película en negativo</tspan><tspan x="185" y="993.8">+Digitalización de película en positivo</tspan><tspan x="185" y="1000.7">+Digitalización de una impresión sobre soporte no transparente</tspan><tspan x="185" y="1007.6">+Creado por software</tspan></text></g>

<g id="IdiomasDEARQ"><rect class="bx g" x="113" y="1031" width="40" height="57"/><path class="sp" d="M113 1045H153"/><text class="s" x="133" y="1037">&lt;&lt;codeList&gt;&gt;</text><text class="n" x="133" y="1043" font-size="4.2px">IdiomasDEARQ</text><text class="a"><tspan x="115" y="1050">+es</tspan><tspan x="115" y="1057">+en</tspan><tspan x="115" y="1064">+fr</tspan><tspan x="115" y="1071">+it</tspan><tspan x="115" y="1078">+de</tspan></text></g>

<g id="TiposImagenPTC"><rect class="bx g" x="160" y="1033" width="74" height="48"/><path class="sp" d="M160 1047H234"/><text class="s" x="197" y="1039">&lt;&lt;enumeration&gt;&gt;</text><text class="n" x="197" y="1045">TiposImagenPTC</text><text class="a"><tspan x="162" y="1052.5">+Imagen fotográfica</tspan><tspan x="162" y="1059.5">+Imagen ilustrada</tspan><tspan x="162" y="1066.5">+Imagen multimedia o compuesta</tspan><tspan x="162" y="1073.5">+Otra</tspan></text></g>

<g id="Analisis"><rect class="bx g" x="461" y="632" width="81" height="33"/><path class="sp" d="M461 646H542"/><text class="s" x="501.5" y="638">&lt;&lt;dataType&gt;&gt;</text><text class="n" x="501.5" y="644">Analisis</text><text class="a"><tspan x="463" y="651.5">+fecha : DateTime [0..1]</tspan><tspan x="463" y="658.5">+laboratorio : LaboratorioAnalisis [1]</tspan></text></g>

<g id="MaterialC14"><rect class="bx r" x="475" y="668" width="112" height="54"/><path class="sp" d="M475 682H587"/><text class="s" x="531" y="674">&lt;&lt;dataType&gt;&gt;</text><text class="n" x="531" y="680">MaterialC14</text><text class="a"><tspan x="477" y="687.5">+tipoMaterial : TipoMaterial [*]</tspan><tspan x="477" y="694.4">+contextoEstratigrafico : Contexto [1]</tspan><tspan x="477" y="701.3">+evaluacionAsociacion : EvaluacionAsociacion [1]</tspan><tspan x="477" y="708.2">+observaciones : CharacterString [1]</tspan><tspan x="477" y="715.1">+agregacion : AgregacionMaterialC14 [1]</tspan></text></g>

<g id="AnalisisElemental"><rect class="bx p" x="425" y="741" width="87" height="175"/><path class="sp" d="M425 755H512"/><text class="s" x="468.5" y="747">&lt;&lt;dataType&gt;&gt;</text><text class="n" x="468.5" y="753">AnalisisElemental</text><text class="a"><tspan x="427" y="760.5">+numAnalisis : varchar(50) [1] {unique}</tspan><tspan x="427" y="767.5">+As : float [1]</tspan><tspan x="427" y="774.4">+Ag : float [1]</tspan><tspan x="427" y="781.4">+Cu : float [1]</tspan><tspan x="427" y="788.3">+Sn : float [1]</tspan><tspan x="427" y="795.3">+Pb : float [1]</tspan><tspan x="427" y="802.2">+Fe : float [1]</tspan><tspan x="427" y="809.2">+Ni : float [1]</tspan><tspan x="427" y="816.1">+Sb : float [1]</tspan><tspan x="427" y="823.1">+Zn : float [1]</tspan><tspan x="427" y="830">+Ca : float [1]</tspan><tspan x="427" y="837">+K : float [1]</tspan><tspan x="427" y="843.9">+Ti : float [1]</tspan><tspan x="427" y="850.9">+Mn : float [1]</tspan><tspan x="427" y="857.8">+Bi : float [1]</tspan><tspan x="427" y="864.8">+Au : float [1]</tspan><tspan x="427" y="871.7">+Co : float [1]</tspan><tspan x="427" y="878.7">+otros : varchar(200) [0..1]</tspan><tspan x="427" y="885.6">+sumaBase : float [1]</tspan><tspan x="427" y="892.6">+conservacion : string [1]</tspan><tspan x="427" y="899.5">+patina : byte [1]</tspan><tspan x="427" y="906.5">+observaciones : string [0..*]</tspan></text></g>

<g id="AnalisisIsotopicoPb"><rect class="bx p" x="515" y="741" width="58" height="61"/><path class="sp" d="M515 755H573"/><text class="s" x="544" y="747">&lt;&lt;dataType&gt;&gt;</text><text class="n" x="544" y="753">AnalisisIsotopicoPb</text><text class="a"><tspan x="517" y="760.5">+mina : Minas [1]</tspan><tspan x="517" y="767.5">+pb206_204 : float [0..1]</tspan><tspan x="517" y="774.5">+pb207_204 : float [0..1]</tspan><tspan x="517" y="781.5">+pb208_204 : float [0..1]</tspan><tspan x="517" y="788.5">+pb207_206 : float [0..1]</tspan><tspan x="517" y="795.5">+pb208_206 : float [0..1]</tspan></text></g>

<g id="Metales"><rect class="bx p" x="516" y="807" width="33" height="50"/><path class="sp" d="M516 821H549"/><text class="s" x="532.5" y="813">&lt;&lt;codeList&gt;&gt;</text><text class="n" x="532.5" y="819">Metales</text><text class="a"><tspan x="518" y="826.5">+Plomo</tspan><tspan x="518" y="833.4">+Plata</tspan><tspan x="518" y="840.3">+Oro</tspan><tspan x="518" y="847.2">+Cobre</tspan><tspan x="518" y="854.1">+Hierro</tspan></text></g>

<g id="AgregacionMaterialC14"><rect class="bx r" x="520" y="866" width="61" height="46"/><path class="sp" d="M520 880H581"/><text class="s" x="550.5" y="872">&lt;&lt;codeList&gt;&gt;</text><text class="n" x="550.5" y="878">AgregacionMaterialC14</text><text class="a"><tspan x="522" y="885">+Agregado</tspan><tspan x="522" y="891.8">+Elemento individual</tspan><tspan x="522" y="898.6">+void : unknown</tspan><tspan x="522" y="905.4">+withheld : unpopulated</tspan></text></g>

<g id="ParametrosReservaMarinaC14"><rect class="bx r" x="553" y="921" width="79" height="39"/><path class="sp" d="M553 935H632"/><text class="s" x="592.5" y="927">&lt;&lt;dataType&gt;&gt;</text><text class="n" x="592.5" y="933">ParametrosReservaMarinaC14</text><text class="a"><tspan x="555" y="940">+valor : float [1]</tspan><tspan x="555" y="947">+desviacion : float [1]</tspan><tspan x="555" y="954">+refBibl : string [1]</tspan></text></g>

<g id="DatacionesC14"><rect class="bx r" x="373" y="923" width="159" height="89"/><path class="sp" d="M373 937H532"/><text class="s" x="452.5" y="929">&lt;&lt;dataType&gt;&gt;</text><text class="n" x="452.5" y="935">DatacionesC14</text><text class="a"><tspan x="375" y="943">+numDatacion [1]</tspan><tspan x="375" y="950">+edadC14 : int [1]</tspan><tspan x="375" y="957">+desviacion : int [1]</tspan><tspan x="375" y="964">+calibrada : byte [1]</tspan><tspan x="375" y="971">+C_N : int [1]</tspan><tspan x="375" y="978">+d13C : float [1]</tspan><tspan x="375" y="985">+d15N : float [1]</tspan><tspan x="375" y="992">+metodo : MetodoMedida [1]</tspan><tspan x="375" y="999">+corFraccionado : float [1]</tspan><tspan x="375" y="1006">&lt;&lt;voidable&gt;&gt; +efectoReservaMar : ParametroReservaMarinaC14 [0..*]</tspan></text></g>

<g id="CalibracionC14"><rect class="bx r" x="539" y="1004" width="93" height="62"/><path class="sp" d="M539 1018H632"/><text class="s" x="585.5" y="1010">&lt;&lt;dataType&gt;&gt;</text><text class="n" x="585.5" y="1016">CalibracionC14</text><text class="a"><tspan x="541" y="1023.5">+programaCal : ProgramaCalibracion [1]</tspan><tspan x="541" y="1030.5">+curva_cal : CharacterString [1]</tspan><tspan x="541" y="1037.5">+cal_ANE_1s_lim_inf : int [1]</tspan><tspan x="541" y="1044.5">+cal_ANE_1s_lim_sup : int [1]</tspan><tspan x="541" y="1051.5">+cal_ANE_2s_lim_inf : int [1]</tspan><tspan x="541" y="1058.5">+cal_ANE_2s_lim_sup : int [1]</tspan></text></g>

<g id="EstacionCPRL"><rect class="bx o" x="645" y="599" width="61" height="54"/><path class="sp" d="M645 613H706"/><text class="s" x="675.5" y="605">&lt;&lt;featureType&gt;&gt;</text><text class="n" x="675.5" y="611">EstacionCPRL</text><text class="a"><tspan x="647" y="618.5">+codigoCPRL : string [1]</tspan><tspan x="647" y="625.3">+orientacion : string [1]</tspan><tspan x="647" y="632.1">+altitud : int [1]</tspan><tspan x="647" y="638.9">+dimensiones : string [1]</tspan><tspan x="647" y="645.7">+litologia [1]</tspan></text></g>

<g id="AbrigoCPRL"><rect class="bx o" x="720" y="599" width="43" height="25"/><path class="sp" d="M720 613H763"/><text class="s" x="741.5" y="605">&lt;&lt;featureType&gt;&gt;</text><text class="n" x="741.5" y="611">AbrigoCPRL</text></g>

<g id="LaboratorioAnalisis"><rect class="bx g" x="716" y="646" width="75" height="33"/><path class="sp" d="M716 660H791"/><text class="s" x="753.5" y="652">&lt;&lt;dataType&gt;&gt;</text><text class="n" x="753.5" y="658">LaboratorioAnalisis</text><text class="a"><tspan x="718" y="665.5">+siglas : varchar(25)</tspan><tspan x="718" y="672.5">+nombreCompleto : varchar(300)</tspan></text></g>

<g id="Tipologia"><rect class="bx g" x="732" y="690" width="38" height="22"/><path class="sp" d="M732 704H770"/><text class="s" x="751" y="696">&lt;&lt;dataType&gt;&gt;</text><text class="n" x="751" y="702">Tipologia</text></g>

<g id="PiezaMetal"><rect class="bx p" x="601" y="690" width="84" height="77"/><path class="sp" d="M601 704H685"/><text class="s" x="643" y="696">&lt;&lt;dataType&gt;&gt;</text><text class="n" x="643" y="702">PiezaMetal</text><text class="a"><tspan x="603" y="709.5">+numInvent : varchar(50) [1] {unique}</tspan><tspan x="603" y="716.5">+nMuseo : string [0..1]</tspan><tspan x="603" y="723.5">+refExcavacion : string [0..1]</tspan><tspan x="603" y="730.5">+descripcion : string [0..1]</tspan><tspan x="603" y="737.5">+museo : string [0..1]</tspan><tspan x="603" y="744.5">+coleccion : string [0..1]</tspan><tspan x="603" y="751.5">+tipoEstilo : string [0..1]</tspan><tspan x="603" y="758.5">+observaciones : string [0..1]</tspan></text></g>

<g id="EvaluacionAsociacion"><rect class="bx r" x="604" y="778" width="95" height="65"/><path class="sp" d="M604 792H699"/><text class="s" x="651.5" y="784">&lt;&lt;codeList&gt;&gt;</text><text class="n" x="651.5" y="790">EvaluacionAsociacion</text><text class="a"><tspan x="606" y="797.5">+Fiable</tspan><tspan x="606" y="804.4">+Asociada Contexto Cerrado Corto</tspan><tspan x="606" y="811.2">+Asociada Contexto Cerrado Largo</tspan><tspan x="606" y="818.1">+Prob Asociación Contexto Cerrado Corto</tspan><tspan x="606" y="824.9">+Prob Asociación Contexto Cerrado Largo</tspan><tspan x="606" y="831.8">+Incierto o desconocido</tspan><tspan x="606" y="838.6">+Inadmisible</tspan></text></g>

<g id="TipoPieza"><rect class="bx p" x="763" y="734" width="42" height="25"/><path class="sp" d="M763 748H805"/><text class="s" x="784" y="740">&lt;&lt;codeList&gt;&gt;</text><text class="n" x="784" y="746">TipoPieza</text></g>
<g id="RestosMetalurgicos"><rect class="bx p" x="722" y="774" width="55" height="25"/><path class="sp" d="M722 788H777"/><text class="s" x="749.5" y="780">&lt;&lt;codeList&gt;&gt;</text><text class="n" x="749.5" y="786">RestosMetalurgicos</text></g>
<g id="ObjetosSuntuarios"><rect class="bx p" x="797" y="774" width="51" height="25"/><path class="sp" d="M797 788H848"/><text class="s" x="822.5" y="780">&lt;&lt;codeList&gt;&gt;</text><text class="n" x="822.5" y="786">ObjetosSuntuarios</text></g>
<g id="Armas"><rect class="bx p" x="736" y="803" width="41" height="22"/><path class="sp" d="M736 817H777"/><text class="s" x="756.5" y="809">&lt;&lt;codeList&gt;&gt;</text><text class="n" x="756.5" y="815">Armas</text></g>
<g id="Vajilla"><rect class="bx p" x="797" y="803" width="40" height="22"/><path class="sp" d="M797 817H837"/><text class="s" x="817" y="809">&lt;&lt;codeList&gt;&gt;</text><text class="n" x="817" y="815">Vajilla</text></g>
<g id="Monedas"><rect class="bx p" x="739" y="833" width="38" height="22"/><path class="sp" d="M739 847H777"/><text class="s" x="758" y="839">&lt;&lt;codeList&gt;&gt;</text><text class="n" x="758" y="845">Monedas</text></g>
<g id="Indeterminado"><rect class="bx p" x="797" y="829" width="44" height="22"/><path class="sp" d="M797 843H841"/><text class="s" x="819" y="835">&lt;&lt;codeList&gt;&gt;</text><text class="n" x="819" y="841">Indeterminado</text></g>
<g id="Herramientas"><rect class="bx p" x="736" y="858" width="41" height="22"/><path class="sp" d="M736 872H777"/><text class="s" x="756.5" y="864">&lt;&lt;codeList&gt;&gt;</text><text class="n" x="756.5" y="870">Herramientas</text></g>
<g id="Fittings"><rect class="bx p" x="797" y="858" width="34" height="22"/><path class="sp" d="M797 872H831"/><text class="s" x="814" y="864">&lt;&lt;codeList&gt;&gt;</text><text class="n" x="814" y="870">Fittings</text></g>
<g id="Estatuaria"><rect class="bx p" x="766" y="887" width="37" height="22"/><path class="sp" d="M766 901H803"/><text class="s" x="784.5" y="893">&lt;&lt;codeList&gt;&gt;</text><text class="n" x="784.5" y="899">Estatuaria</text></g>

<g id="MetodoMedida"><rect class="bx r" x="604" y="847" width="43" height="47"/><path class="sp" d="M604 861H647"/><text class="s" x="625.5" y="853">&lt;&lt;codeList&gt;&gt;</text><text class="n" x="625.5" y="859">MetodoMedida</text><text class="a"><tspan x="606" y="866.5">+AMS</tspan><tspan x="606" y="873.5">+Beta</tspan><tspan x="606" y="880.5">+LSC</tspan><tspan x="606" y="887.5">+CCC</tspan></text></g>

<g id="ProgramaCalibracion"><rect class="bx r" x="651" y="847" width="41" height="47"/><path class="sp" d="M651 868H692"/><text class="s" x="671.5" y="853">&lt;&lt;codeList&gt;&gt;</text><text class="n" x="671.5" y="859">ProgramaCalib</text><text class="n" x="671.5" y="865.5">racion</text><text class="a"><tspan x="653" y="873">+OxCal</tspan><tspan x="653" y="880">+Calib</tspan><tspan x="653" y="887">+Radiocarbon</tspan></text></g>

<g id="TipoMaterial"><rect class="bx r" x="651" y="898" width="102" height="29"/><path class="sp" d="M651 912H753"/><text class="s" x="702" y="904">&lt;&lt;codeList&gt;&gt;</text><text class="n" x="702" y="910">TipoMaterial</text><text class="a"><tspan x="653" y="917.5">+sustanciaAnalizadaC14 : InfoSustanciaC14 [1]</tspan></text></g>

<g id="Animal"><rect class="bx r" x="682" y="935" width="34" height="22"/><path class="sp" d="M682 949H716"/><text class="s" x="699" y="941">&lt;&lt;codeList&gt;&gt;</text><text class="n" x="699" y="947">Animal</text></g>
<g id="Mineral"><rect class="bx r" x="635" y="950" width="34" height="21"/><path class="sp" d="M635 964H669"/><text class="s" x="652" y="956">&lt;&lt;codeList&gt;&gt;</text><text class="n" x="652" y="962">Mineral</text></g>
<g id="Vegetal"><rect class="bx r" x="682" y="961" width="34" height="21"/><path class="sp" d="M682 975H716"/><text class="s" x="699" y="967">&lt;&lt;codeList&gt;&gt;</text><text class="n" x="699" y="973">Vegetal</text></g>
<g id="Generico"><rect class="bx r" x="635" y="979" width="34" height="18"/><path class="sp" d="M635 993H669"/><text class="s" x="652" y="985">&lt;&lt;codeList&gt;&gt;</text><text class="n" x="652" y="991">Genérico</text></g>

<g id="InfoSustanciaC14"><rect class="bx r" x="726" y="931" width="125" height="33"/><path class="sp" d="M726 945H851"/><text class="s" x="788.5" y="937">&lt;&lt;dataType&gt;&gt;</text><text class="n" x="788.5" y="943">InfoSustanciaC14</text><text class="a"><tspan x="728" y="950.5">+metodoObtencion : MetodoObtencionSustanciaC14 [1]</tspan><tspan x="728" y="957.5">+sustanciaMaterialC14 : SustanciasMaterialC14 [1]</tspan></text></g>

<g id="MetodoObtencionSustanciaC14"><rect class="bx r" x="726" y="968" width="85" height="33"/><path class="sp" d="M726 982H811"/><text class="s" x="768.5" y="974">&lt;&lt;codeList&gt;&gt;</text><text class="n" x="768.5" y="980">MetodoObtencionSustanciaC14</text><text class="a"><tspan x="728" y="987.5">+Convencional</tspan><tspan x="728" y="994.5">+UltraFiltrado</tspan></text></g>

<g id="SustanciasMaterialC14"><rect class="bx r" x="814" y="968" width="47" height="54"/><path class="sp" d="M814 989H861"/><text class="s" x="837.5" y="974">&lt;&lt;codeList&gt;&gt;</text><text class="n" x="837.5" y="980" font-size="4.3px">SustanciasMaterial</text><text class="n" x="837.5" y="986.5">C14</text><text class="a"><tspan x="816" y="994.5">+Colágeno</tspan><tspan x="816" y="1001.4">+Proteína</tspan><tspan x="816" y="1008.3">+Carbonato Cálcico</tspan><tspan x="816" y="1015.2">+Residuo</tspan></text></g>

<g id="AdministrativeScopeValue"><rect class="bx y" x="247" y="412" width="68" height="54"/><path class="sp" d="M247 426H315"/><text class="s" x="281" y="418">&lt;&lt;enumeration&gt;&gt;</text><text class="n" x="281" y="424">AdministrativeScopeValue</text><text class="a"><tspan x="249" y="431.5">International</tspan><tspan x="249" y="438.5">European</tspan><tspan x="249" y="445.5">National</tspan><tspan x="249" y="452.5">Regional</tspan><tspan x="249" y="459.5">Local</tspan></text></g>

<g id="NatureOfProtection"><rect class="bx y" x="247" y="474" width="61" height="39"/><path class="sp" d="M247 488H308"/><text class="s" x="277.5" y="480">&lt;&lt;codeList&gt;&gt;</text><text class="n" x="277.5" y="486">NatureOfProtection</text><text class="a"><tspan x="249" y="493.5">+Archaeological</tspan><tspan x="249" y="500.5">+Architectonical</tspan><tspan x="249" y="507.5">+Ethnographical</tspan></text></g>

<g id="CulturalEntityType"><rect class="bx y" x="247" y="521" width="61" height="34"/><path class="sp" d="M247 535H308"/><text class="s" x="277.5" y="527">&lt;&lt;dataType&gt;&gt;</text><text class="n" x="277.5" y="533">CulturalEntityType</text><text class="a"><tspan x="249" y="540.5">+value</tspan><tspan x="249" y="547.5">+entityTypeSchema {unique}</tspan></text></g>

<g id="ProtectedHeritagePlace"><rect class="bx y" x="171" y="365" width="118" height="41"/><path class="sp" d="M171 379H289"/><text class="s" x="230" y="371">&lt;&lt;featureType&gt;&gt;</text><text class="n" x="230" y="377">ProtectedHeritagePlace</text><text class="a"><tspan x="173" y="384.5">+placeMarker : LocalisedCharacterString [1..*]</tspan><tspan x="173" y="391.5">+administrativeScope : AdministrativeScopeValue [1]</tspan><tspan x="173" y="398.5">+type : NatureOfProtection [1..*]</tspan></text></g>

<g id="HeritagePlaceConstraint"><path d="M102,380H159L163,384V394H102Z" fill="#ffffca" stroke="#9c9c9c" stroke-width=".8"/><path class="sp" d="M159,380V384H163"/><text class="a" x="104" y="389.5">HeritagePlaceConstraint</text></g>

<g id="ConstraintNote"><path d="M102,413H234L240,419V678H102Z" fill="#ffffca" stroke="#9c9c9c" stroke-width=".8"/><path class="sp" d="M234,413V419H240"/><text class="nt"><tspan x="104" y="418.5">self.legalFoundationDate.isTypeOf(OclVoid) = false</tspan><tspan x="104" y="431.5">self.legalFoundationDocument.isTypeOf(OclVoid) = false</tspan><tspan x="104" y="444.5">self.designationScheme.isTypeOf(OclVoid) = false</tspan><tspan x="104" y="457.5">if   self.siteName.isTypeOf(OclVoid) then</tspan><tspan x="112" y="464.5">self.siteName.reason=VoidValueReason::Unknown</tspan><tspan x="104" y="471">then</tspan><tspan x="110" y="477.5">false</tspan><tspan x="104" y="484.5">endif</tspan><tspan x="104" y="496.5">self.siteProtectionClassification = 'cultural'</tspan><tspan x="104" y="509.5">self.siteIdentifier.isTypeOf(OclVoid) = false</tspan><tspan x="104" y="521.5">self.spatialResolution.isTypeOf(OclVoid) = false</tspan><tspan x="104" y="533.5">if   self.ownership.isTypeOf(OclVoid) then</tspan><tspan x="112" y="540.5">self.ownership.reason=VoidValueReason::Unknown</tspan><tspan x="104" y="547">then</tspan><tspan x="110" y="553.5">false</tspan><tspan x="104" y="560.5">endif</tspan><tspan x="104" y="572.5">if   self.documentation.isTypeOf(OclVoid) then</tspan><tspan x="112" y="579.5">self.documentation.reason=VoidValueReason::Unknown</tspan><tspan x="104" y="585.5">then</tspan><tspan x="110" y="592.5">false</tspan><tspan x="104" y="599.5">endif</tspan><tspan x="104" y="610.5">self.isTypeOf(OclVoid) = false</tspan><tspan x="104" y="618.5">if   self.officialSiteArea.isTypeOf(OclVoid) then</tspan><tspan x="112" y="624.5">self.officialSiteArea.reason=VoidValueReason::Unknown</tspan><tspan x="104" y="630.5">then</tspan><tspan x="110" y="637.5">false</tspan><tspan x="104" y="644.5">endif</tspan><tspan x="104" y="656.5">self.natura2000Respondent.isTypeOf(OclVoid)</tspan><tspan x="104" y="670.5">self.beginLifespanVersion.isTypeOf(OclVoid) = false</tspan></text></g>

<g id="frames" fill="none">
<rect x="41" y="57" width="876" height="539" rx="92" ry="78" stroke="#1f4e8c" stroke-width="5" stroke-dasharray="21 16"/>
<rect x="7" y="12" width="933" height="1116" rx="132" ry="132" stroke="#ff0000" stroke-width="5" stroke-dasharray="21 16"/>
</g>
</svg>
